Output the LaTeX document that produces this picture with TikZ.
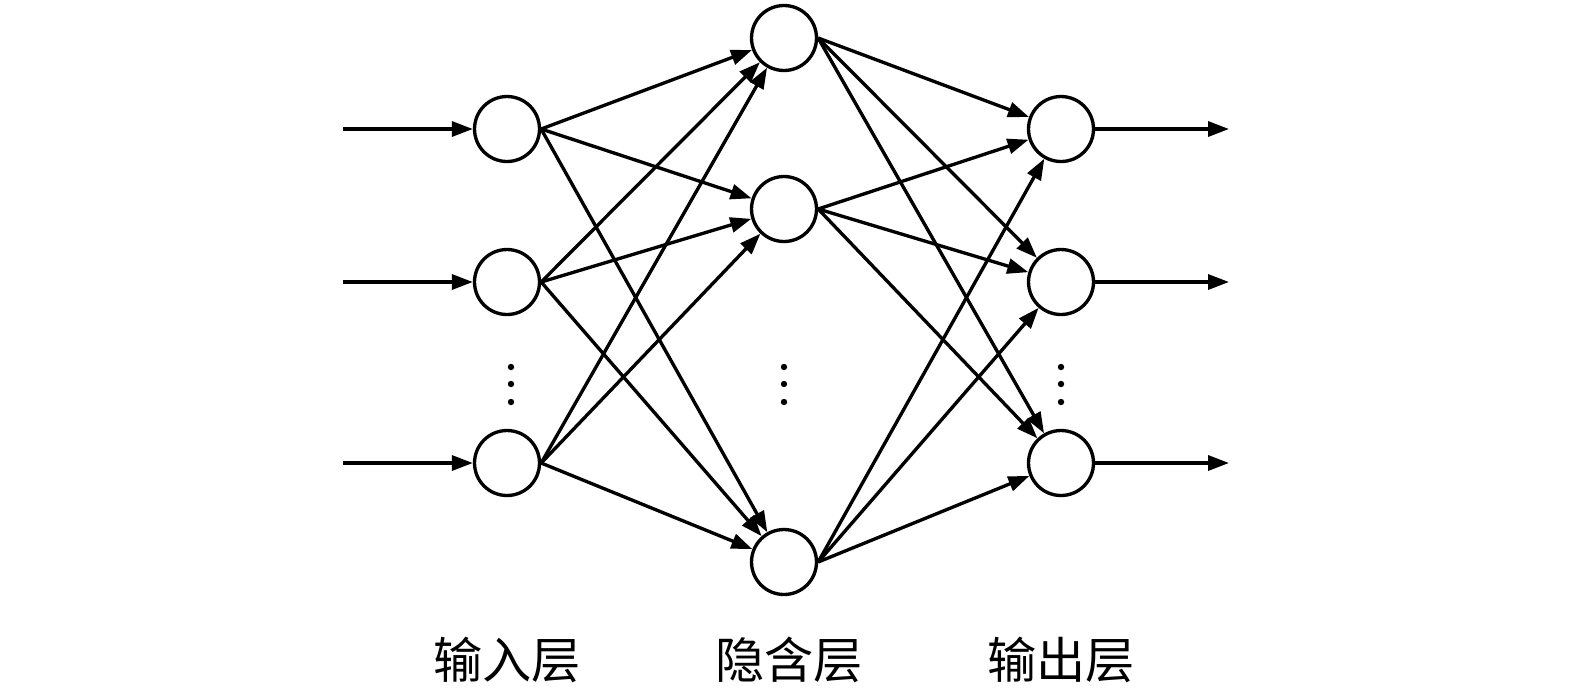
\documentclass[tikz,border=0pt]{standalone}
\usepackage{fontspec}
\newfontfamily\cjk{Noto Sans CJK SC}
\usetikzlibrary{arrows.meta}

\begin{document}
\begin{tikzpicture}[x=0.02cm, y=-0.02cm,
    neuron/.style={circle, draw=black, line width=1.9pt, minimum size=1.3cm, inner sep=0pt},
    link/.style={-{Triangle[length=0.42cm,width=0.3cm]}, color=black, line width=1.9pt},
    layername/.style={font=\cjk\fontsize{28}{30}\selectfont}]
    \useasboundingbox (0,0) rectangle (1575,691);

    % input layer
    \node[neuron] (i1) at (507,129) {};
    \node[neuron] (i2) at (507,282) {};
    \node[neuron] (i3) at (507,463) {};
    % hidden layer
    \node[neuron] (h1) at (784,38) {};
    \node[neuron] (h2) at (784,209) {};
    \node[neuron] (h3) at (784,562) {};
    % output layer
    \node[neuron] (o1) at (1061,129) {};
    \node[neuron] (o2) at (1061,282) {};
    \node[neuron] (o3) at (1061,463) {};

    \coordinate (x1) at (343,129);
    \coordinate (x2) at (343,282);
    \coordinate (x3) at (343,463);
    \coordinate (y1) at (1229,129);
    \coordinate (y2) at (1229,282);
    \coordinate (y3) at (1229,463);

    \draw[link] (x1) -- (i1);
    \draw[link] (x2) -- (i2);
    \draw[link] (x3) -- (i3);

    \draw[link] (i1.east) -- (h1);
    \draw[link] (i1.east) -- (h2);
    \draw[link] (i1.east) -- (h3);
    \draw[link] (i2.east) -- (h1);
    \draw[link] (i2.east) -- (h2);
    \draw[link] (i2.east) -- (h3);
    \draw[link] (i3.east) -- (h1);
    \draw[link] (i3.east) -- (h2);
    \draw[link] (i3.east) -- (h3);

    \draw[link] (h1.east) -- (o1);
    \draw[link] (h1.east) -- (o2);
    \draw[link] (h1.east) -- (o3);
    \draw[link] (h2.east) -- (o1);
    \draw[link] (h2.east) -- (o2);
    \draw[link] (h2.east) -- (o3);
    \draw[link] (h3.east) -- (o1);
    \draw[link] (h3.east) -- (o2);
    \draw[link] (h3.east) -- (o3);

    \draw[link] (o1.east) -- (y1);
    \draw[link] (o2.east) -- (y2);
    \draw[link] (o3.east) -- (y3);

    % dots
    \fill (511,367) circle (3.2);
    \fill (511,384) circle (3.2);
    \fill (511,402) circle (3.2);
    \fill (784,367) circle (3.2);
    \fill (784,384) circle (3.2);
    \fill (784,402) circle (3.2);
    \fill (1061,367) circle (3.2);
    \fill (1061,384) circle (3.2);
    \fill (1061,402) circle (3.2);

    \node[layername] (lin) at (507,660) {输入层};
    \node[layername] (lhid) at (789,660) {隐含层};
    \node[layername] (lout) at (1061,660) {输出层};
\end{tikzpicture}
\end{document}
